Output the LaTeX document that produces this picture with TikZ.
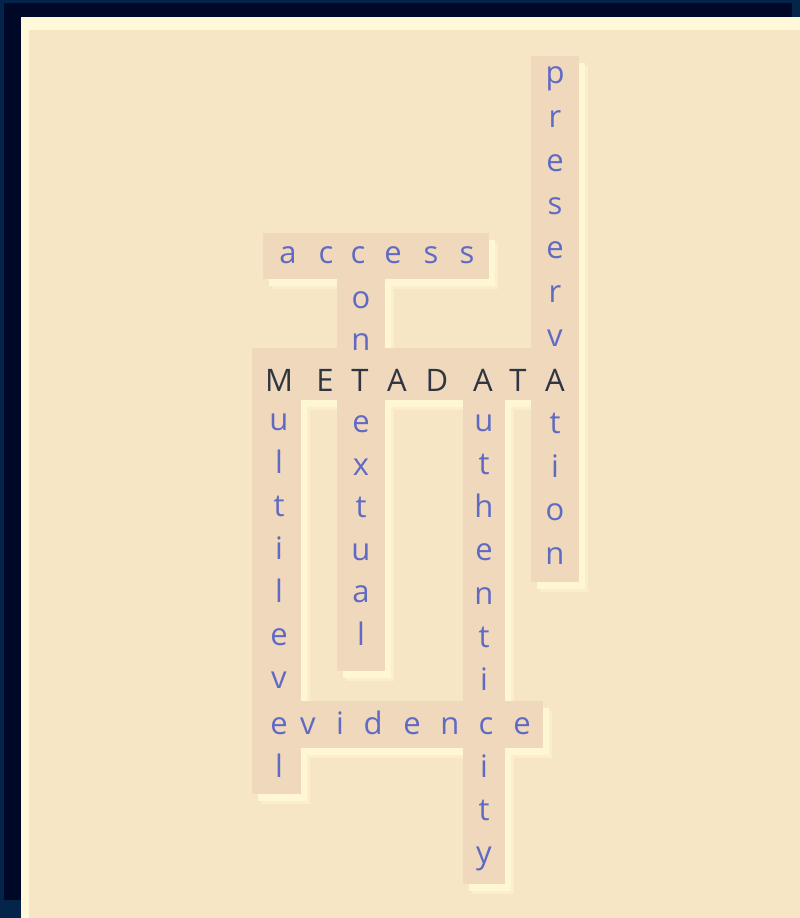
\documentclass[tikz,border=0pt]{standalone}
\usepackage{fontspec}
\setmainfont{Open Sans}
\definecolor{navy}{HTML}{05244A}
\definecolor{darkband}{HTML}{000828}
\definecolor{cream}{HTML}{FFF9D9}
\definecolor{beige}{HTML}{F7E6C6}
\definecolor{tile}{HTML}{EFD8BB}
\definecolor{shade}{HTML}{FFF7D4}
\definecolor{bluelet}{HTML}{5F6AC4}
\definecolor{darklet}{HTML}{2F3642}
\tikzset{
  lc/.style={inner sep=0pt, anchor=base, text=bluelet, font=\fontsize{31}{31}\selectfont},
  uc/.style={inner sep=0pt, anchor=base, text=darklet, font=\fontsize{31}{31}\selectfont},
  tilebox/.style={fill=tile, draw=none},
  shadowbox/.style={fill=shade, draw=none}
}
\newcommand{\tiles}[1]{%
  \fill[#1] (531,56) rectangle (579,582);
  \fill[#1] (263,233) rectangle (489,279);
  \fill[#1] (337,233) rectangle (385,671);
  \fill[#1] (253,348) rectangle (579,400);
  \fill[#1] (252,348) rectangle (301,794);
  \fill[#1] (252,701) rectangle (543,748);
  \fill[#1] (463,348) rectangle (505,884);
}
\begin{document}
\begin{tikzpicture}[x=1pt,y=-1pt]
\useasboundingbox (0,0) rectangle (800,918);
% frame
\fill[navy] (0,0) rectangle (800,918);
\fill[darkband] (4,3) rectangle (792,900);
\fill[cream] (21,17) rectangle (800,918);
\fill[beige] (29,30) rectangle (800,918);
% shadows
\begin{scope}[shift={(9,10)}]
  \tiles{shade!50!beige}
\end{scope}
\begin{scope}[shift={(6,7)}]
  \tiles{shadowbox}
\end{scope}
% tiles
\tiles{tilebox}
% horizontal words
\foreach \ch/\x [count=\i] in {a/288,c/326,c/358,e/393,s/431,s/467}
  \node[lc] (acc\i) at (\x,263) {\ch};
\foreach \ch/\x [count=\i] in {M/279,E/325,T/360,A/397,D/437,A/483,T/518,A/555}
  \node[uc] (meta\i) at (\x,391) {\ch};
\foreach \ch/\x [count=\i] in {v/308,i/340,d/373,e/412,n/450,c/486,e/522}
  \node[lc] (evid\i) at (\x,734) {\ch};
% vertical words
\foreach \ch/\y [count=\i] in {o/298,n/340,e/422,x/465,t/507,u/550,a/592,l/635}
  \node[lc] (cont\i) at (361,\y+10) {\ch};
\foreach \ch/\y [count=\i] in {u/420,l/463,t/506,i/549,l/592,e/635,v/678,e/724,l/767}
  \node[lc] (mult\i) at (279,\y+10) {\ch};
\foreach \ch/\y [count=\i] in {u/421,t/464,h/507,e/550,n/594,t/637,i/680,i/767,t/810,y/853}
  \node[lc] (auth\i) at (484,\y+10) {\ch};
\foreach \ch/\y [count=\i] in {p/73,r/117,e/161,s/204,e/248,r/292,v/336,t/423,i/467,o/510,n/554}
  \node[lc] (pres\i) at (555,\y+10) {\ch};
\end{tikzpicture}
\end{document}
